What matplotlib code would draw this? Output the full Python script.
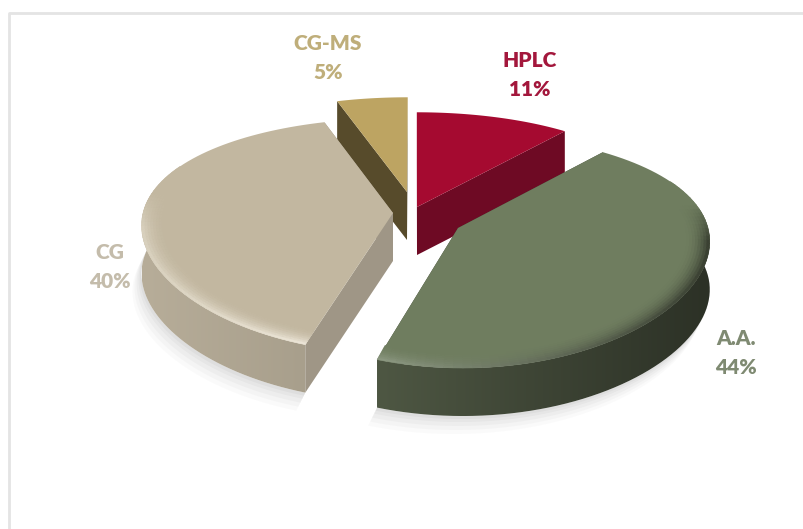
#!/usr/bin/env python3
"""Exploded 3D-look pie chart of analytical techniques."""

import numpy as np
import matplotlib

matplotlib.use("Agg")
import matplotlib.pyplot as plt
from matplotlib.collections import PolyCollection
from matplotlib.colors import to_rgb
from matplotlib.patches import Polygon

categories = ["HPLC", "A.A.", "CG", "CG-MS"]
shares = [11, 44, 40, 5]

label_colors = ["#a3173c", "#7f8a72", "#c4bcab", "#bfae7a"]
top_colors = ["#a50a30", "#6f7d5f", "#c2b7a0", "#bda462"]
edge_colors = ["#6e0a24", "#3f4636", "#9f9686", "#574b2b"]
wall_colors = [("#6e0a24", "#6e0a24"), ("#4e5743", "#2c3126"),
               ("#b7ad99", "#a89f8c"), ("#574b2b", "#574b2b")]
rim_colors = [None, ("#8b9780", "#3a4032"), ("#d8d0bd", "#ece5d7"), None]

# layout in pixels: where each slice's point sits on screen, and its label
apex_x = [417, 458, 393, 407]
apex_y = [207, 228, 213, 192]
label_x = [530, 736, 110, 328]
label_y = [75, 353, 267, 58]
draw_order = [0, 3, 2, 1]

RX, RY = 250, 113
VANISH_X = 415
PERSP_X, PERSP_Y = 0.10, 0.193
DEPTH = 48


def project(i, r, ang):
    u, v = r * np.cos(ang), r * np.sin(ang)
    return (VANISH_X + (apex_x[i] - VANISH_X + RX * u) / (1 + PERSP_X * v),
            apex_y[i] - RY * v / (1 + PERSP_Y * v))


def mix(c1, c2, t):
    return tuple((1 - t) * a + t * b for a, b in zip(to_rgb(c1), to_rgb(c2)))


fig = plt.figure(figsize=(8.04, 5.29), dpi=100, facecolor="white")
ax = fig.add_axes([0, 0, 1, 1])

# only the top and left of the chart frame are in the crop
ax.plot([9, 9, 804], [529, 13, 13], color="#e4e4e4", lw=2, zorder=0)

# slice angles, clockwise from 12 o'clock
bounds = 90 - np.cumsum([0] + shares) * 3.6

for i in draw_order:
    a0, a1 = np.radians(bounds[i + 1]), np.radians(bounds[i])
    angs = np.linspace(a0, a1, 80)
    ax_pt, ay_pt = project(i, 0.0, 0.0)
    ox, oy = project(i, 1.0, angs)
    zo = 2 + draw_order.index(i) * 2

    # wall runs a little past the side of the disc so the silhouette is closed
    front = np.sin(angs) < 0.2

    # soft shadow below front-facing arcs
    if front.sum() > 1:
        sx, sy = ox[front], oy[front]
        for grow, alpha in zip((18, 14, 10, 6, 3), (0.03, 0.04, 0.05, 0.06, 0.07)):
            px = np.r_[sx, sx[::-1] - grow * 0.5]
            py = np.r_[sy + DEPTH, sy[::-1] + DEPTH + grow]
            ax.fill(px, py, color="#777777", alpha=alpha, lw=0, zorder=1)

    # straight cut faces
    for ang in (a0, a1):
        tx, ty = project(i, 1.0, ang)
        ax.fill([ax_pt, tx, tx, ax_pt], [ay_pt, ty, ty + DEPTH, ay_pt + DEPTH],
                color=edge_colors[i], lw=0, zorder=zo)

    # outer wall, shaded across the picture
    if front.sum() > 1:
        sx, sy = ox[front], oy[front]
        outline = np.c_[np.r_[sx, sx[::-1]], np.r_[sy, sy[::-1] + DEPTH]]
        clip = Polygon(outline, closed=True, transform=ax.transData, fc="none", ec="none")
        ax.add_patch(clip)
        grad = np.array([mix(*wall_colors[i], t) for t in np.linspace(0, 1, 200)])[None, :, :]
        im = ax.imshow(grad, extent=(sx.min(), sx.max(), sy.max() + DEPTH, sy.min()),
                       aspect="auto", interpolation="bilinear", zorder=zo)
        im.set_clip_path(clip)

    # top face
    ax.fill(np.r_[ax_pt, ox], np.r_[ay_pt, oy], color=top_colors[i], lw=0, zorder=zo)

    # rounded rim: rings blending from top colour into a highlight
    if rim_colors[i] is not None:
        ring_r = np.linspace(0.91, 1.0, 9)
        quads, cols = [], []
        seg = angs[np.sin(angs) < 0.45]
        for r0, r1 in zip(ring_r[:-1], ring_r[1:]):
            x0, y0 = project(i, r0, seg)
            x1, y1 = project(i, r1, seg)
            for k in range(len(seg) - 1):
                quads.append([(x0[k], y0[k]), (x0[k + 1], y0[k + 1]),
                              (x1[k + 1], y1[k + 1]), (x1[k], y1[k])])
                t = (x0[k] - x0.min()) / max(np.ptp(x0), 1)
                rim = mix(*rim_colors[i], t)
                fade = np.clip(-np.sin(seg[k]) * 3 + 0.6, 0, 1)
                w = ((r1 - 0.91) / 0.09) ** 2 * fade
                cols.append(mix(top_colors[i], rim, w))
        ax.add_collection(PolyCollection(quads, facecolors=cols, edgecolors=cols,
                                         linewidths=0.4, zorder=zo))

for i, name in enumerate(categories):
    ax.text(label_x[i], label_y[i], f"{name}\n{shares[i]}%", color=label_colors[i],
            family=["Lato", "DejaVu Sans"], weight="heavy", fontsize=15,
            ha="center", va="center", linespacing=1.6, zorder=30)

ax.set_xlim(0, 804)
ax.set_ylim(529, 0)
ax.axis("off")

fig.savefig("out.png", dpi=100)
